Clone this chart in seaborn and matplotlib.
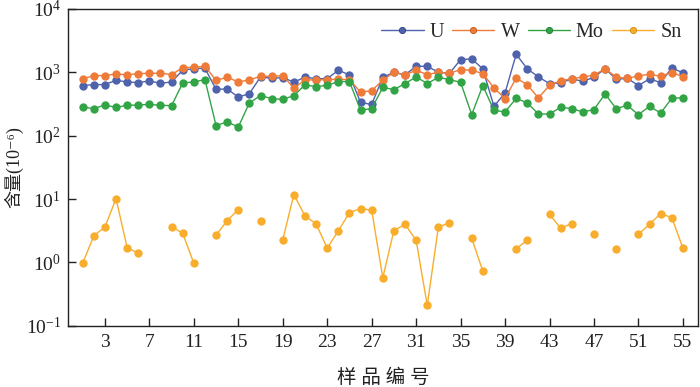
import numpy as np
import pandas as pd
import matplotlib
matplotlib.use("Agg")
import matplotlib.pyplot as plt
from matplotlib.lines import Line2D
from matplotlib.ticker import LogLocator, LogFormatterSciNotation, NullLocator
import seaborn as sns

# sample numbers 1..55
samples = list(range(1, 56))

U = [617, 640, 640, 748, 705, 687, 731, 670, 705, 1077,
     1144, 1156, 538, 547, 406, 461, 846, 804, 825, 700,
     834, 794, 794, 1077, 910, 334, 311, 834, 1000, 910,
     1245, 1245, 1000, 964, 1585, 1629, 1132, 290, 473, 1924,
     1135, 846, 663, 680, 787, 721, 834, 1144, 775, 804,
     617, 787, 687, 1175, 979]

W = [787, 887, 887, 944, 910, 955, 964, 964, 920, 1186,
     1200, 1245, 748, 834, 705, 759, 865, 865, 887, 559,
     759, 759, 767, 775, 767, 487, 514, 748, 1000, 910,
     1077, 920, 1000, 964, 1104, 1077, 955, 567, 384, 816,
     635, 394, 623, 739, 787, 846, 897, 1144, 834, 804,
     877, 930, 865, 989, 855]

Mo = [284, 267, 305, 280, 301, 305, 312, 301, 298, 680,
      705, 767, 144, 165, 137, 329, 429, 384, 374, 429,
      632, 594, 623, 713, 713, 253, 267, 579, 533, 663,
      846, 663, 834, 767, 695, 215, 617, 251, 237, 388,
      329, 220, 220, 280, 267, 237, 258, 456, 267, 301,
      215, 290, 228, 388, 398]

nan = np.nan
Sn = [0.97, 2.65, 3.6, 10.2, 1.71, 1.40, nan, nan, 3.68, 2.89,
      0.97, nan, 2.69, 4.57, 6.82, nan, 4.57, nan, 2.27, 11.8,
      5.43, 4.06, 1.69, 3.15, 6.12, 7.08, 6.68, 0.575, 3.18, 4.01,
      2.24, 0.211, 3.6, 4.25, nan, 2.41, 0.73, nan, nan, 1.65,
      2.24, nan, 5.77, 3.47, 4.1, nan, 2.82, nan, 1.65, nan,
      2.79, 4.01, 5.9, 5.1, 1.69]

elements = ["U", "W", "Mo", "Sn"]
colors = {"U": "#4f63ad", "W": "#ef7b39", "Mo": "#32a446", "Sn": "#f9ad2c"}
edge_colors = {"U": "#2f3f80", "W": "#c0561c", "Mo": "#1d7a2e", "Sn": "#d08a10"}

# long table, Sn broken into segments where values are missing
rows = []
for name, vals in zip(elements, [U, W, Mo, Sn]):
    seg = 0
    for s, v in zip(samples, vals):
        if np.isnan(v):
            seg += 1
            continue
        rows.append({"sample": s, "value": v, "element": name, "seg": seg})
df = pd.DataFrame(rows)

sns.set_style("ticks")
plt.rcParams["font.family"] = ["Liberation Serif", "Noto Sans CJK SC", "DejaVu Serif"]
plt.rcParams["mathtext.fontset"] = "stix"

fig = plt.figure(figsize=(7, 3.87), dpi=100)
ax = fig.add_axes([0.097, 0.158, 0.900, 0.819])

sns.lineplot(data=df, x="sample", y="value", hue="element", hue_order=elements,
             units="seg", estimator=None, sort=False, palette=colors,
             marker="o", markersize=6, markeredgewidth=0, linewidth=1.0,
             legend=False, ax=ax)

ax.set_yscale("log")
ax.set_ylim(0.1, 1e4)
ax.set_xlim(-0.33, 56.35)
ax.yaxis.set_major_locator(LogLocator(base=10, numticks=10))
ax.yaxis.set_major_formatter(LogFormatterSciNotation())
ax.yaxis.set_minor_locator(NullLocator())
ax.set_xticks(list(range(3, 56, 4)))

ax.tick_params(axis="both", direction="in", length=6, width=1.0, labelsize=14,
               colors="#222222")
ax.tick_params(axis="x", pad=6)
ax.tick_params(axis="y", pad=5)
for sp in ax.spines.values():
    sp.set_linewidth(1.0)
    sp.set_color("#222222")

ax.set_xlabel("样 品 编 号", fontsize=14, color="#222222")
ax.set_ylabel("含量(10⁻⁶)", fontsize=13, color="#222222")
ax.xaxis.set_label_coords(0.5, -0.135)
ax.yaxis.set_label_coords(-0.071, 0.5)

handles = [Line2D([0], [0], color=colors[e], lw=1.0, marker="o", markersize=4.5,
                  markerfacecolor=colors[e], markeredgecolor=edge_colors[e],
                  markeredgewidth=0.6) for e in elements]
ax.legend(handles, elements, loc="upper right", bbox_to_anchor=(0.993, 0.995),
          ncol=4, frameon=False, fontsize=14.5, handlelength=2.1,
          handletextpad=0.3, columnspacing=0.4, borderaxespad=0.2)

fig.savefig("out.png", dpi=100)
